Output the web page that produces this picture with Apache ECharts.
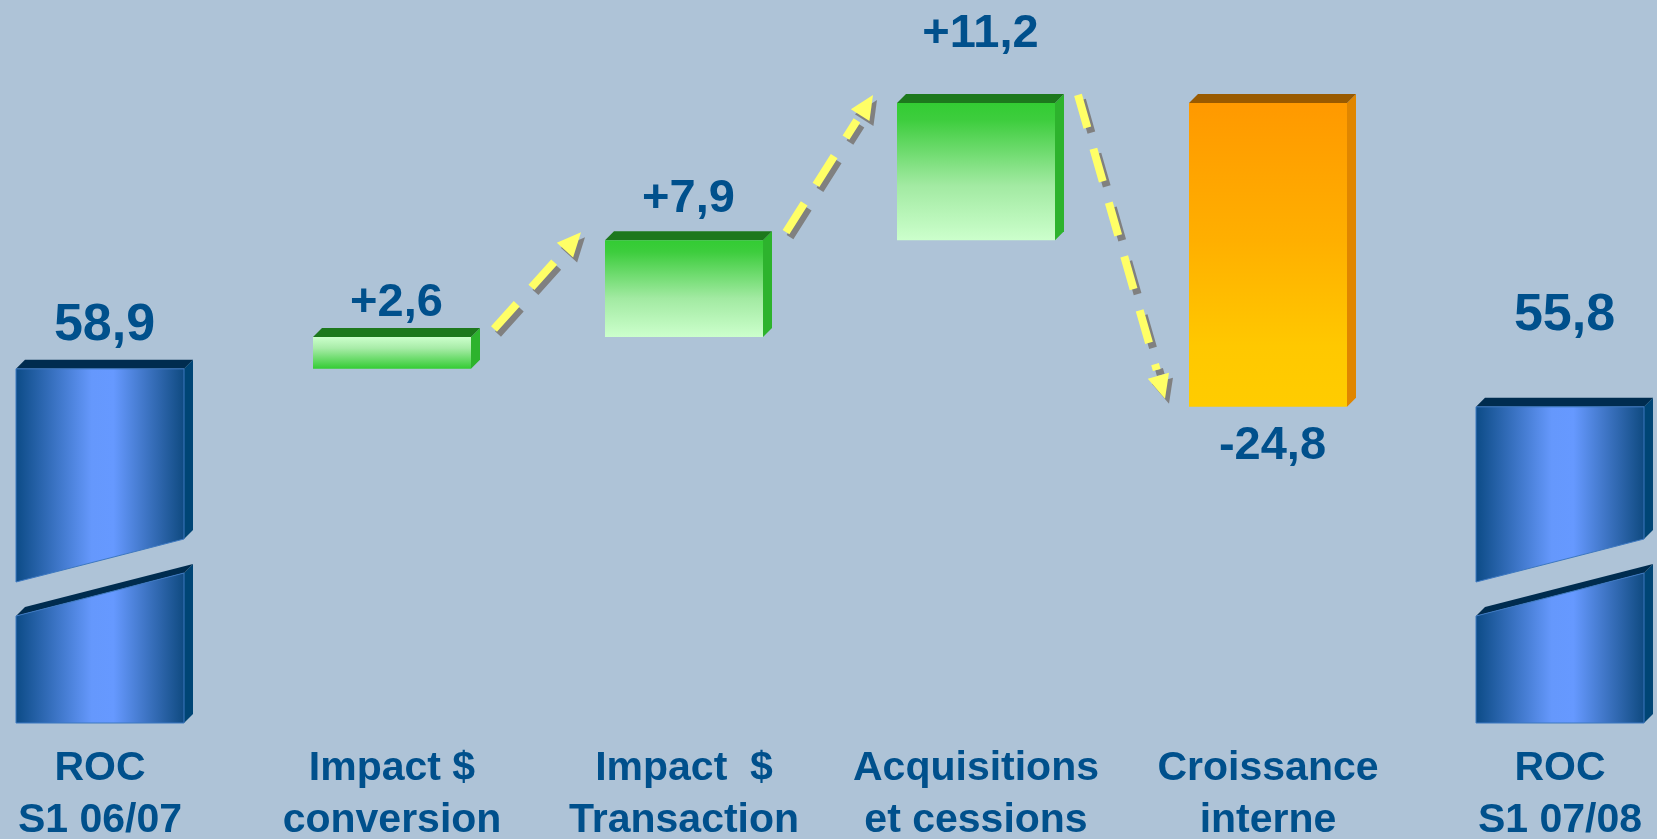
<!DOCTYPE html>
<html>
<head>
<meta charset="utf-8">
<script src="https://cdn.jsdelivr.net/npm/echarts@6/dist/echarts.min.js"></script>
<style>
  html, body { margin: 0; padding: 0; background: #aec3d7; overflow: hidden; }
  body { width: 1657px; height: 839px; position: relative; }
  /* the plot is a little wider than the page so the outer columns sit near the edges */
  #chart { position: absolute; left: -46px; top: 0; width: 1752px; height: 839px; }
</style>
</head>
<body>
<div id="chart"></div>
<script>
// ---- data ----
const categories = [
  'ROC\nS1 06/07',
  'Impact $\nconversion',
  'Impact  $\nTransaction',
  'Acquisitions\net cessions',
  'Croissance\ninterne',
  'ROC\nS1 07/08'
];
const openingTotal = 58.9;
const changes = [2.6, 7.9, 11.2, -24.8];
const closingTotal = 55.8;

// ---- scale (truncated value axis: totals are drawn with a break) ----
const axisMin = 30;
const axisMax = 89;

// ---- styling ----
const TEXT = '#00508c';
const FONT = '"Liberation Sans", Arial, sans-serif';
const DEPTH = 9;
const TOTAL_W = 168;
const DELTA_W = 158;
const BREAK_LOW_L = 107, BREAK_LOW_R = 150, BREAK_GAP = 34;
// vertical placement of each value label relative to its bar end
const labelShift = [-43, -34, -41, -69, 39, -91];
// the first change bar is shaded light-to-dark downwards
const shadeFlip = [false, true, false, false, false, false];

const blueFront = {
  type: 'linear', x: 0, y: 0, x2: 1, y2: 0,
  colorStops: [
    { offset: 0, color: '#0c4b86' },
    { offset: 0.45, color: '#6598fc' },
    { offset: 0.58, color: '#6699ff' },
    { offset: 1, color: '#0f4a80' }
  ]
};
const greenDown = {
  type: 'linear', x: 0, y: 0, x2: 0, y2: 1,
  colorStops: [
    { offset: 0, color: '#33cc33' },
    { offset: 0.12, color: '#3dcd3d' },
    { offset: 0.6, color: '#a2eaa2' },
    { offset: 1, color: '#ccffcc' }
  ]
};
const greenUp = {
  type: 'linear', x: 0, y: 0, x2: 0, y2: 1,
  colorStops: [
    { offset: 0, color: '#ccffcc' },
    { offset: 0.35, color: '#a8eca8' },
    { offset: 1, color: '#33cc33' }
  ]
};
const orangeFront = {
  type: 'linear', x: 0, y: 0, x2: 0, y2: 1,
  colorStops: [
    { offset: 0, color: '#ff9900' },
    { offset: 0.45, color: '#ffaf00' },
    { offset: 0.8, color: '#ffc800' },
    { offset: 1, color: '#ffcc00' }
  ]
};
const palettes = {
  0: { top: '#002c4f', side: '#004575' },
  1: { top: '#1d781d', side: '#2db32d' },
  2: { top: '#995a00', side: '#e08600' }
};

// ---- waterfall rows: [categoryIndex, low, high, kind, shownValue] ----
const rows = [[0, axisMin, openingTotal, 0, openingTotal]];
const levels = [];
let level = openingTotal;
changes.forEach((c, i) => {
  const next = Math.round((level + c) * 10) / 10;
  rows.push([i + 1, Math.min(level, next), Math.max(level, next), c >= 0 ? 1 : 2, c]);
  levels.push(next);
  level = next;
});
rows.push([categories.length - 1, axisMin, closingTotal, 0, closingTotal]);

// connectors between consecutive change bars: [fromIndex, fromLevel, toIndex, toLevel]
const connectors = [];
for (let k = 0; k < levels.length - 1; k++) {
  connectors.push([k + 1, levels[k], k + 2, levels[k + 1]]);
}

function fmt(v, kind) {
  const s = Math.abs(v).toFixed(1).replace('.', ',');
  if (kind === 0) return s;
  return (v >= 0 ? '+' : '-') + s;
}

function poly(points, fill) {
  return { type: 'polygon', shape: { points }, style: { fill, stroke: null } };
}

function renderBar(params, api) {
  const idx = api.value(0), low = api.value(1), high = api.value(2);
  const kind = api.value(3), shown = api.value(4);
  const pT = api.coord([idx, high]);
  const pB = api.coord([idx, low]);
  const cx = pT[0];
  const w = kind === 0 ? TOTAL_W : DELTA_W;
  const x0 = cx - w / 2, x1 = cx + w / 2;
  const yT = pT[1], yB = pB[1];
  const d = DEPTH;
  const pal = palettes[kind];
  const children = [];

  if (kind === 0) {
    const lL = yB - BREAK_LOW_L, lR = yB - BREAK_LOW_R;
    const uL = lL - BREAK_GAP, uR = lR - BREAK_GAP;
    // lower piece
    children.push(poly([[x1, lR], [x1 + d, lR - d], [x1 + d, yB - d], [x1, yB]], pal.side));
    children.push(poly([[x0, lL], [x0 + d, lL - d], [x1 + d, lR - d], [x1, lR]], pal.top));
    children.push({ type: 'polygon', shape: { points: [[x0, yB], [x1, yB], [x1, lR], [x0, lL]] },
      style: { fill: blueFront, stroke: '#3d78c0', lineWidth: 1 } });
    // upper piece
    children.push(poly([[x1, yT], [x1 + d, yT - d], [x1 + d, uR - d], [x1, uR]], pal.side));
    children.push(poly([[x0, yT], [x0 + d, yT - d], [x1 + d, yT - d], [x1, yT]], pal.top));
    children.push({ type: 'polygon', shape: { points: [[x0, yT], [x1, yT], [x1, uR], [x0, uL]] },
      style: { fill: blueFront, stroke: '#3d78c0', lineWidth: 1 } });
  } else {
    const front = kind === 2 ? orangeFront : (shadeFlip[idx] ? greenUp : greenDown);
    children.push(poly([[x1, yT], [x1 + d, yT - d], [x1 + d, yB - d], [x1, yB]], pal.side));
    children.push(poly([[x0, yT], [x0 + d, yT - d], [x1 + d, yT - d], [x1, yT]], pal.top));
    children.push({ type: 'rect', shape: { x: x0, y: yT, width: w, height: yB - yT },
      style: { fill: front } });
  }

  const labelY = (kind === 2 ? yB : yT) + labelShift[idx];
  children.push({
    type: 'text',
    style: {
      text: fmt(shown, kind),
      x: cx + d / 2,
      y: labelY,
      align: 'center',
      verticalAlign: 'middle',
      fill: TEXT,
      font: 'bold ' + (kind === 0 ? 52 : 47) + 'px ' + FONT
    }
  });
  return { type: 'group', children };
}

const ARROW_PAD_START = 14, ARROW_PAD_END = 24, ARROW_LIFT = 8;
const HEAD_LEN = 24, HEAD_HALF = 11;
const SHADOW_DX = 4, SHADOW_DY = 5;

function renderArrow(params, api) {
  const a = api.coord([api.value(0), api.value(1)]);
  const b = api.coord([api.value(2), api.value(3)]);
  const sx = a[0] + DELTA_W / 2 + DEPTH + ARROW_PAD_START, sy = a[1] - ARROW_LIFT;
  const ex = b[0] - DELTA_W / 2 - ARROW_PAD_END, ey = b[1] - ARROW_LIFT;
  const len = Math.hypot(ex - sx, ey - sy);
  const ux = (ex - sx) / len, uy = (ey - sy) / len;
  const px = -uy, py = ux;
  const bx = ex - ux * HEAD_LEN, by = ey - uy * HEAD_LEN;
  const lx = bx - ux * 6, ly = by - uy * 6;
  const children = [];
  [[SHADOW_DX, SHADOW_DY, '#808080'], [0, 0, '#ffff66']].forEach(([ox, oy, col]) => {
    children.push({
      type: 'line',
      shape: { x1: sx + ox, y1: sy + oy, x2: lx + ox, y2: ly + oy },
      style: { stroke: col, lineWidth: 8, lineDash: [34, 22], lineCap: 'butt' }
    });
    children.push({
      type: 'polygon',
      shape: { points: [
        [ex + ox, ey + oy],
        [bx + px * HEAD_HALF + ox, by + py * HEAD_HALF + oy],
        [bx - px * HEAD_HALF + ox, by - py * HEAD_HALF + oy]
      ] },
      style: { fill: col, stroke: null }
    });
  });
  return { type: 'group', children };
}

const chart = echarts.init(document.getElementById('chart'), null, { renderer: 'canvas' });
chart.setOption({
  backgroundColor: '#aec3d7',
  animation: false,
  grid: { left: 0, right: 0, top: 0, bottom: 116, containLabel: false, outerBoundsMode: 'none' },
  xAxis: {
    type: 'category',
    data: categories,
    boundaryGap: true,
    axisLine: { show: false },
    axisTick: { show: false },
    splitLine: { show: false },
    axisLabel: {
      interval: 0,
      margin: 20,
      color: TEXT,
      fontWeight: 'bold',
      fontSize: 41,
      lineHeight: 52,
      fontFamily: FONT,
      align: 'center'
    }
  },
  yAxis: {
    type: 'value',
    min: axisMin,
    max: axisMax,
    show: false,
    splitLine: { show: false }
  },
  series: [
    {
      type: 'custom',
      name: 'arrows',
      clip: false,
      z: 1,
      renderItem: renderArrow,
      encode: { x: 0, y: 1 },
      data: connectors
    },
    {
      type: 'custom',
      name: 'ROC',
      clip: false,
      z: 2,
      renderItem: renderBar,
      encode: { x: 0, y: [1, 2] },
      data: rows
    }
  ]
});
</script>
</body>
</html>
